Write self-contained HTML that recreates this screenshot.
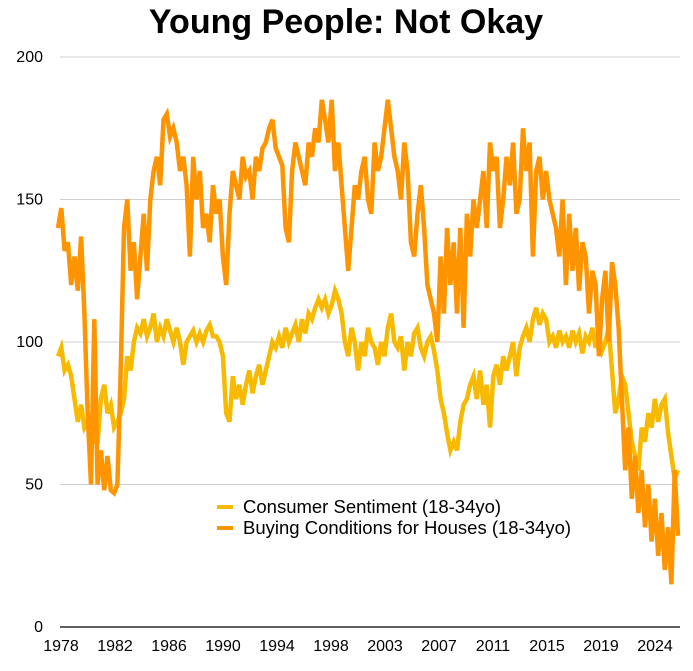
<!DOCTYPE html>
<html><head><meta charset="utf-8"><style>
html,body{margin:0;padding:0;background:#fff;}
svg text{font-family:"Liberation Sans",Arial,sans-serif;}
</style></head><body>
<svg id="chart" width="693" height="666" xmlns="http://www.w3.org/2000/svg">
<text x="346" y="33" text-anchor="middle" font-size="34" font-weight="bold" fill="#000">Young People: Not Okay</text>
<g id="grid"></g>
<g id="series"></g>
<g>
<line x1="217" y1="507" x2="233" y2="507" stroke="#F7BA00" stroke-width="4"/>
<text x="243" y="513" font-size="18.5" fill="#000">Consumer Sentiment (18-34yo)</text>
<line x1="217" y1="528" x2="233" y2="528" stroke="#FE9400" stroke-width="4"/>
<text x="243" y="534" font-size="18.5" fill="#000">Buying Conditions for Houses (18-34yo)</text>
</g>
</svg>
<script>
const yTicks=[0,50,100,150,200];
const xLabels=["1978","1982","1986","1990","1994","1998","2003","2007","2011","2015","2019","2024"];
const startYear=1978;
const pointsPerYear=4;
const houses=[140,147,132,135,120,130,118,137,110,75,50,108,50,62,48,60,48,47,50,90,
140,150,125,135,115,130,145,125,150,160,165,155,178,180,172,175,170,160,165,155,
130,165,150,160,140,145,135,155,145,150,130,120,145,160,155,150,165,158,160,150,
165,160,168,170,175,178,168,165,162,140,135,160,170,165,160,155,170,165,175,170,
185,178,170,185,160,170,155,140,125,140,155,150,160,165,150,145,170,160,165,175,
185,175,165,160,150,170,160,135,130,145,155,140,120,115,110,100,130,110,140,120,
135,110,140,105,145,130,150,140,150,160,140,170,160,165,140,150,165,155,170,145,
150,175,160,170,130,160,165,150,160,150,145,140,130,150,120,145,125,140,118,135,
130,110,125,120,95,115,125,100,128,120,105,80,55,70,45,60,40,55,35,50,
30,45,25,40,20,35,15,55,32];
const sentiment=[95,98,90,92,88,80,72,78,70,72,68,65,65,80,85,75,78,70,72,75,
80,95,90,100,105,103,108,102,105,110,100,105,102,108,104,100,105,100,92,100,
102,104,100,103,100,104,106,102,102,100,95,75,72,88,80,85,78,85,90,82,
88,92,85,90,95,100,98,102,98,105,100,103,106,100,108,103,110,108,112,115,
112,115,110,113,118,115,110,100,95,105,100,90,100,95,105,100,98,92,100,95,
105,110,100,98,102,90,100,95,103,105,98,95,100,102,97,90,80,75,68,62,
65,62,72,78,80,85,88,80,90,78,85,70,88,92,85,95,90,95,100,88,
98,102,105,100,108,112,106,110,108,100,102,98,104,100,102,98,104,100,103,96,
102,100,105,98,103,97,100,105,90,75,80,88,85,75,65,60,55,70,65,75,
70,80,72,78,80,68,60,52,55];

const X0=58,X1=678,Y0=627,Y200=57;
const yS=v=>Y0-(v/200)*(Y0-Y200);
const xS=i=>X0+(i/pointsPerYear)*((X1-X0)/47);
const NS="http://www.w3.org/2000/svg";
const grid=document.getElementById('grid');
const ser=document.getElementById('series');
yTicks.forEach(t=>{
  const l=document.createElementNS(NS,'line');
  l.setAttribute('x1',60);l.setAttribute('x2',680);
  l.setAttribute('y1',yS(t));l.setAttribute('y2',yS(t));
  l.setAttribute('stroke',t===0?'#000':'#d0d0d0');
  l.setAttribute('stroke-width',t===0?1.2:1);
  
  
  grid.appendChild(l);
  const tx=document.createElementNS(NS,'text');
  tx.setAttribute('x',43);tx.setAttribute('y',yS(t)+5);
  tx.setAttribute('text-anchor','end');tx.setAttribute('font-size','16');
  tx.textContent=t;
  
  
  grid.appendChild(tx);
});
xLabels.forEach((s,i)=>{
  const tx=document.createElementNS(NS,'text');
  tx.setAttribute('x',61+i*(655-61)/11);tx.setAttribute('y',651);
  tx.setAttribute('text-anchor','middle');tx.setAttribute('font-size','16');
  tx.textContent=s;
  
  
  grid.appendChild(tx);
});
function line(arr,color,name){
  const p=document.createElementNS(NS,'path');
  p.setAttribute('d',arr.map((v,i)=>(i?'L':'M')+xS(i).toFixed(1)+' '+yS(v).toFixed(1)).join(''));
  p.setAttribute('fill','none');p.setAttribute('stroke',color);
  p.setAttribute('stroke-width','4.5');p.setAttribute('stroke-linejoin','miter');
  
  
  ser.appendChild(p);
}
line(sentiment,'#F7BA00','sentiment-line');
line(houses,'#FE9400','houses-line');
</script>
</body></html>
